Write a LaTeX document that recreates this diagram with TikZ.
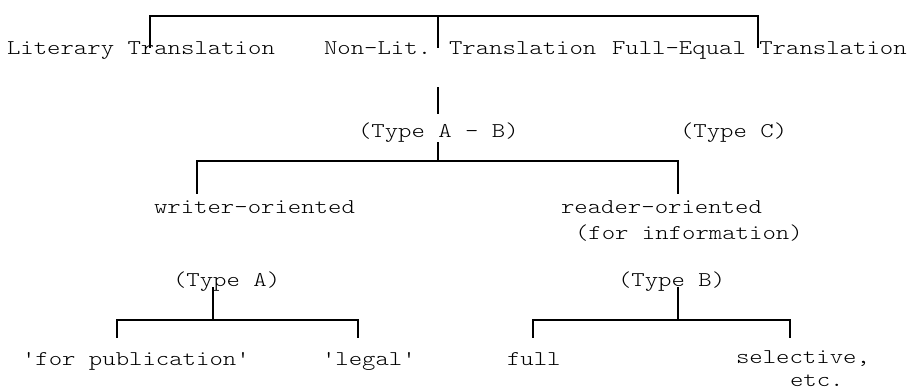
\documentclass[tikz,border=0pt]{standalone}
\usepackage{fontspec}
\newfontfamily\cour[FakeStretch=1.215,Ligatures=TeXOff]{lmmonolt10-regular.otf}
\begin{document}
\begin{tikzpicture}[x=1pt,y=-1pt,
  lbl/.style={anchor=base west,inner sep=0pt,outer sep=0pt,font=\cour\fontsize{21}{26}\selectfont},
  br/.style={line width=1.5pt,line cap=rect}]
\useasboundingbox (0,0) rectangle (916,390);
% texts
\node[lbl] (lit) at (7,55) {Literary Translation};
\node[lbl] (nonlit) at (324,55) {Non-Lit. Translation};
\node[lbl] (fulleq) at (612,55) {Full-Equal Translation};
\node[lbl] (tab) at (358,138) {(Type A - B)};
\node[lbl] (tc) at (680,138) {(Type C)};
\node[lbl] (writer) at (154,214) {writer-oriented};
\node[lbl] (reader) at (561,214) {reader-oriented};
\node[lbl] (info) at (575,240) {(for information)};
\node[lbl] (ta) at (173,287) {(Type A)};
\node[lbl] (tb) at (618,287) {(Type B)};
\node[lbl] (pub) at (22,365) {'for publication'};
\node[lbl] (legal) at (322,365) {'legal'};
\node[lbl] (fullb) at (507,365) {full};
\node[lbl] (sel) at (736,363) {selective,};
\node[lbl] (etc) at (790,386) {etc.};
% bracket coordinates
\coordinate (r0) at (438,16);
\coordinate (r1) at (150,16);
\coordinate (r3) at (758,16);
\coordinate (e1) at (150,47);
\coordinate (e2) at (438,47);
\coordinate (e3) at (758,47);
\coordinate (n1) at (438,88);
\coordinate (n2) at (438,113);
\coordinate (s0) at (438,143);
\coordinate (s1) at (438,161);
\coordinate (sl) at (197,161);
\coordinate (sr) at (678,161);
\coordinate (wl) at (197,193);
\coordinate (wr) at (678,193);
\coordinate (a0) at (213,288);
\coordinate (a1) at (213,320);
\coordinate (al) at (117,320);
\coordinate (ar) at (358,320);
\coordinate (pl) at (117,337);
\coordinate (pr) at (358,337);
\coordinate (b0) at (678,288);
\coordinate (b1) at (678,320);
\coordinate (bl) at (533,320);
\coordinate (bR) at (790,320);
\coordinate (ql) at (533,337);
\coordinate (qr) at (790,337);
% brackets
\draw[br] (e1) -- (r1) -- (r3) -- (e3);
\draw[br] (r0) -- (e2);
\draw[br] (n1) -- (n2);
\draw[br] (s0) -- (s1);
\draw[br] (wl) -- (sl) -- (sr) -- (wr);
\draw[br] (a0) -- (a1);
\draw[br] (pl) -- (al) -- (ar) -- (pr);
\draw[br] (b0) -- (b1);
\draw[br] (ql) -- (bl) -- (bR) -- (qr);
\end{tikzpicture}
\end{document}
